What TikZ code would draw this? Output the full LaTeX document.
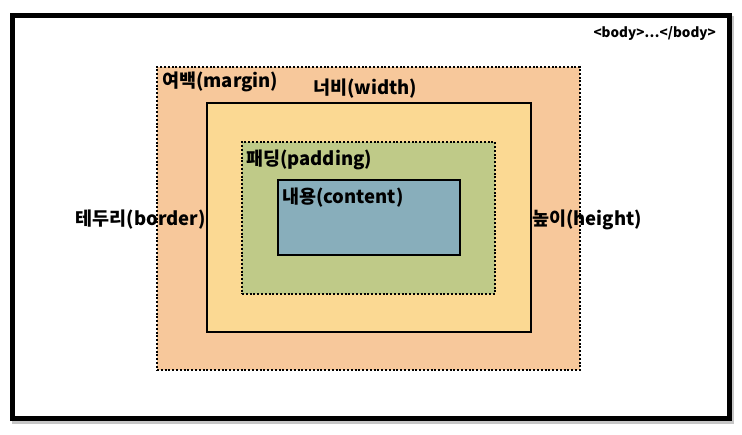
\documentclass[tikz,border=0pt]{standalone}
\usepackage{fontspec}
\setmainfont{Noto Sans CJK KR}
\usepackage{tikz}
\usetikzlibrary{positioning,calc}
\definecolor{marginc}{HTML}{F7C89B}
\definecolor{borderc}{HTML}{FBD993}
\definecolor{paddingc}{HTML}{BFCA88}
\definecolor{contentc}{HTML}{88AEBB}

\begin{document}
\begin{tikzpicture}[x=1pt,y=-1pt,
  boxarea/.style={anchor=north west,inner sep=0pt,outer sep=0pt},
  dotline/.style={draw=black,line width=1.2pt,dash pattern=on 2pt off 1.8pt},
  solidline/.style={draw=black,line width=1.2pt},
  lbl/.style={font=\bfseries\fontsize{18.5}{21}\selectfont,inner sep=1pt}]
\useasboundingbox (0,0) rectangle (742,435);
% page frame
\fill[gray!45] (12,16) rectangle (734,424);
\draw[line width=5pt,fill=white] (12,16) rectangle (729,419);
\node[anchor=east,font=\bfseries\fontsize{13.5}{16}\selectfont,inner sep=0pt] (body) at (716,33) {<body>…</body>};
% boxes
\node[boxarea,dotline,fill=marginc,minimum width=423pt,minimum height=303pt] (M) at (157,67) {};
\node[boxarea,solidline,fill=borderc,minimum width=324pt,minimum height=229pt] (B) at (207,103) {};
\node[boxarea,dotline,fill=paddingc,minimum width=253pt,minimum height=152pt] (P) at (242,142) {};
\node[boxarea,solidline,fill=contentc,minimum width=182pt,minimum height=75pt] (C) at (278,180) {};
% labels
\node[lbl,anchor=west] (lm) at (161,82) {여백(margin)};
\node[lbl,anchor=west] (lw) at (312,89) {너비(width)};
\node[lbl,anchor=west] (lp) at (245,160) {패딩(padding)};
\node[lbl,anchor=west] (lc) at (281,198) {내용(content)};
\node[lbl,anchor=east] (lb) at ($(B.west)+(0,2)$) {테두리(border)};
\node[lbl,anchor=west] (lh) at ($(B.east)+(0,2)$) {높이(height)};
\end{tikzpicture}
\end{document}
